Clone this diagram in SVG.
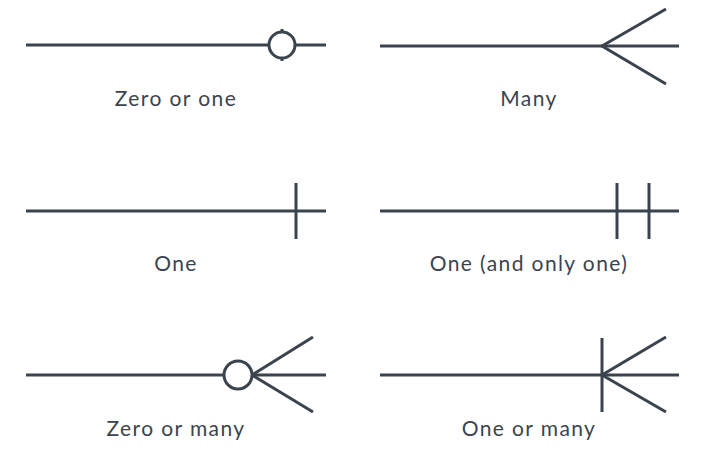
<svg xmlns="http://www.w3.org/2000/svg" width="723" height="471" viewBox="0 0 723 471">
<style>
.ln{stroke:#3b444e;stroke-width:3;fill:none;stroke-linecap:butt}
.c{stroke:#3b444e;stroke-width:3;fill:#fff}
.t{font-family:Lato,"Noto Sans",sans-serif;font-size:21px;fill:#3b444e;text-anchor:middle;letter-spacing:1.4px}
</style>
<rect width="723" height="471" fill="#fff"/>
<g id="connectors">
<g id="zero-or-one">
<line class="ln" x1="26" y1="45" x2="326" y2="45"/>
<line class="ln" x1="282" y1="29" x2="282" y2="61"/>
<circle class="c" cx="282" cy="45" r="13"/>
</g>
<g id="many">
<line class="ln" x1="380" y1="46" x2="679" y2="46"/>
<polyline class="ln" points="666,9 602,46 666,84"/>
</g>
<g id="one">
<line class="ln" x1="26" y1="211" x2="326" y2="211"/>
<line class="ln" x1="296" y1="183" x2="296" y2="239"/>
</g>
<g id="one-and-only-one">
<line class="ln" x1="380" y1="211" x2="679" y2="211"/>
<line class="ln" x1="617" y1="183" x2="617" y2="239"/>
<line class="ln" x1="649" y1="183" x2="649" y2="239"/>
</g>
<g id="zero-or-many">
<line class="ln" x1="26" y1="375" x2="326" y2="375"/>
<polyline class="ln" points="313,337 252,375 313,412"/>
<circle class="c" cx="238" cy="375" r="14"/>
</g>
<g id="one-or-many">
<line class="ln" x1="380" y1="375" x2="679" y2="375"/>
<line class="ln" x1="602" y1="338" x2="602" y2="412"/>
<polyline class="ln" points="666,337 602,375 666,412"/>
</g>
</g>
<g id="labels">
<text class="t" x="176" y="106">Zero or one</text>
<text class="t" x="529" y="106">Many</text>
<text class="t" x="176" y="271">One</text>
<text class="t" x="529" y="271">One (and only one)</text>
<text class="t" x="176" y="436">Zero or many</text>
<text class="t" x="529" y="436">One or many</text>
</g>
</svg>
